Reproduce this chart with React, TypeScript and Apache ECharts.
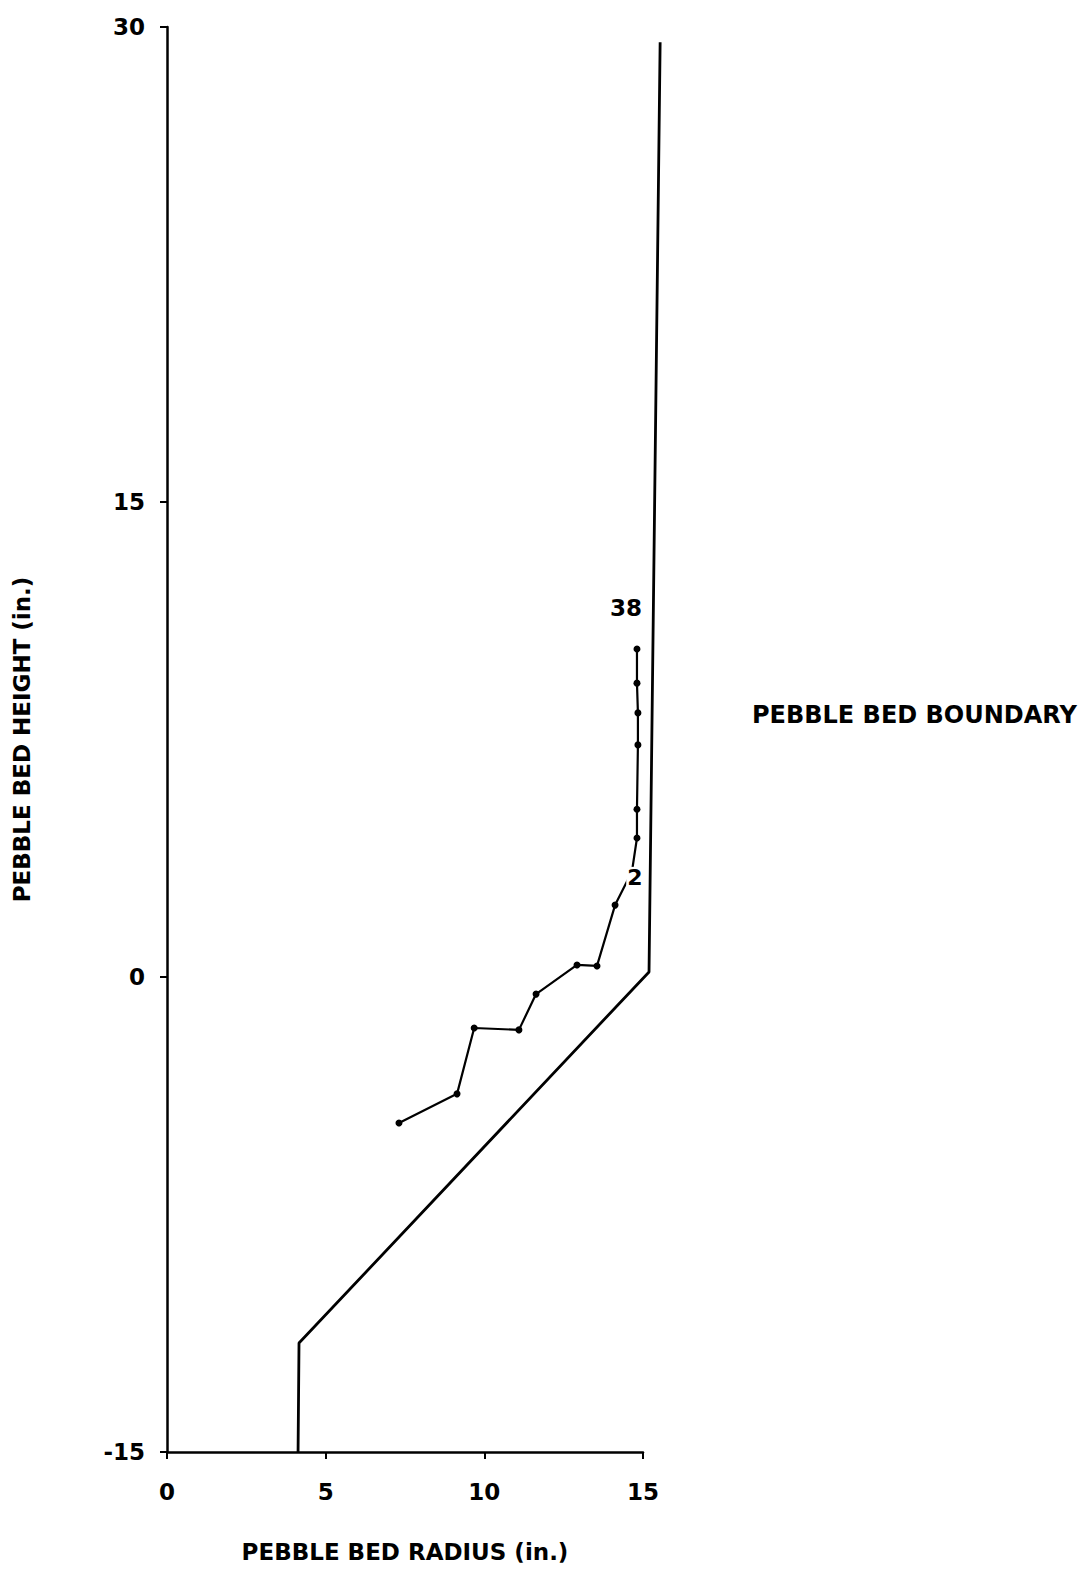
import React, { useEffect, useRef } from "react";
import * as echarts from "echarts";

// Pebble bed boundary outline (radius in., height in.)
const boundaryX = [4.13, 4.16, 15.19, 15.54];
const boundaryY = [-15, -11.56, 0.16, 29.52];

// Tracer trajectory points (radius in., height in.)
const pathX = [7.31, 9.14, 9.68, 11.09, 11.63, 12.92, 13.55, 14.12, 14.65, 14.81, 14.81, 14.84, 14.84, 14.81, 14.81];
const pathY = [-4.61, -3.69, -1.61, -1.67, -0.54, 0.38, 0.35, 2.27, 3.32, 4.39, 5.3, 7.33, 8.34, 9.28, 10.36];
const pathLabels = ["", "", "", "", "", "", "", "", "2", "", "", "", "", "", "38"];

const xTicks = [0, 5, 10, 15];
const yTicks = [-15, 0, 15, 30];
const plotXMax = 16; // data area extends past the last radius tick

export default function App() {
  const ref = useRef<HTMLDivElement>(null);
  useEffect(() => {
    if (!ref.current) return;
    const chart = echarts.init(ref.current, undefined, { renderer: "svg" });
    const font = "DejaVu Sans";
    const left = 167;
    const top = 27;
    const bottom = 119;
    const axisWidth = 476; // 0..15
    const unit = axisWidth / (xTicks[xTicks.length - 1] - xTicks[0]);
    const plotWidth = unit * plotXMax;

    const boundaryData = boundaryX.map((x, i) => [x, boundaryY[i]]);
    const pathData = pathX.map((x, i) => {
      const lbl = pathLabels[i];
      const item: any = { value: [x, pathY[i]] };
      if (lbl === "2") {
        item.symbolSize = 0;
        item.label = {
          show: true,
          formatter: lbl,
          position: "inside",
          offset: [3, 6],
          fontSize: 22,
          fontWeight: "bold",
          fontFamily: font,
          color: "#000",
          backgroundColor: "#fff",
          padding: [0, 1],
        };
      } else if (lbl) {
        item.label = {
          show: true,
          formatter: lbl,
          position: "top",
          distance: 26,
          offset: [-11, 0],
          fontSize: 23,
          fontWeight: "bold",
          fontFamily: font,
          color: "#000",
        };
      }
      return item;
    });

    const hiddenAxis = {
      show: false,
      splitLine: { show: false },
    };

    chart.setOption({
      animation: false,
      backgroundColor: "#fff",
      grid: [
        { left, top, width: axisWidth, bottom, containLabel: false },
        { left, top, width: plotWidth, bottom, containLabel: false },
      ],
      xAxis: [
        {
          type: "value",
          gridIndex: 0,
          min: xTicks[0],
          max: xTicks[xTicks.length - 1],
          interval: 5,
          name: "PEBBLE BED RADIUS (in.)",
          nameLocation: "middle",
          nameGap: 88,
          nameTextStyle: { fontSize: 23, fontWeight: "bold", fontFamily: font, color: "#000" },
          axisLine: { onZero: false, lineStyle: { color: "#000", width: 2.5 } },
          axisTick: { length: 7, lineStyle: { color: "#000", width: 2 } },
          axisLabel: { fontSize: 23, fontWeight: "bold", fontFamily: font, color: "#000", margin: 28 },
          splitLine: { show: false },
        },
        {
          type: "value",
          gridIndex: 1,
          min: 0,
          max: plotXMax,
          ...hiddenAxis,
        },
      ],
      yAxis: [
        {
          type: "value",
          gridIndex: 0,
          min: yTicks[0],
          max: yTicks[yTicks.length - 1],
          interval: 15,
          name: "PEBBLE BED HEIGHT (in.)",
          nameLocation: "middle",
          nameGap: 134,
          nameRotate: 90,
          nameTextStyle: { fontSize: 23, fontWeight: "bold", fontFamily: font, color: "#000" },
          axisLine: { onZero: false, lineStyle: { color: "#000", width: 2.5 } },
          axisTick: { length: 7, lineStyle: { color: "#000", width: 2 } },
          axisLabel: { fontSize: 23, fontWeight: "bold", fontFamily: font, color: "#000", margin: 22 },
          splitLine: { show: false },
        },
        {
          type: "value",
          gridIndex: 1,
          min: yTicks[0],
          max: yTicks[yTicks.length - 1],
          ...hiddenAxis,
        },
      ],
      graphic: [
        {
          type: "text",
          left: 752,
          top: 703,
          style: {
            text: "PEBBLE BED BOUNDARY",
            fontSize: 24,
            fontWeight: "bold",
            fontFamily: font,
            fill: "#000",
          },
        },
      ],
      series: [
        {
          type: "line",
          xAxisIndex: 1,
          yAxisIndex: 1,
          data: boundaryData,
          showSymbol: false,
          clip: false,
          lineStyle: { color: "#000", width: 2.8 },
          z: 2,
        },
        {
          type: "line",
          xAxisIndex: 1,
          yAxisIndex: 1,
          data: pathData,
          symbol: "circle",
          symbolSize: 7,
          clip: false,
          itemStyle: { color: "#000" },
          lineStyle: { color: "#000", width: 2.2 },
          z: 3,
        },
      ],
    });
    return () => chart.dispose();
  }, []);
  return (
    <div
      ref={ref}
      style={{ position: "fixed", left: 0, top: 0, width: 1082, height: 1571, background: "#fff" }}
    />
  );
}
